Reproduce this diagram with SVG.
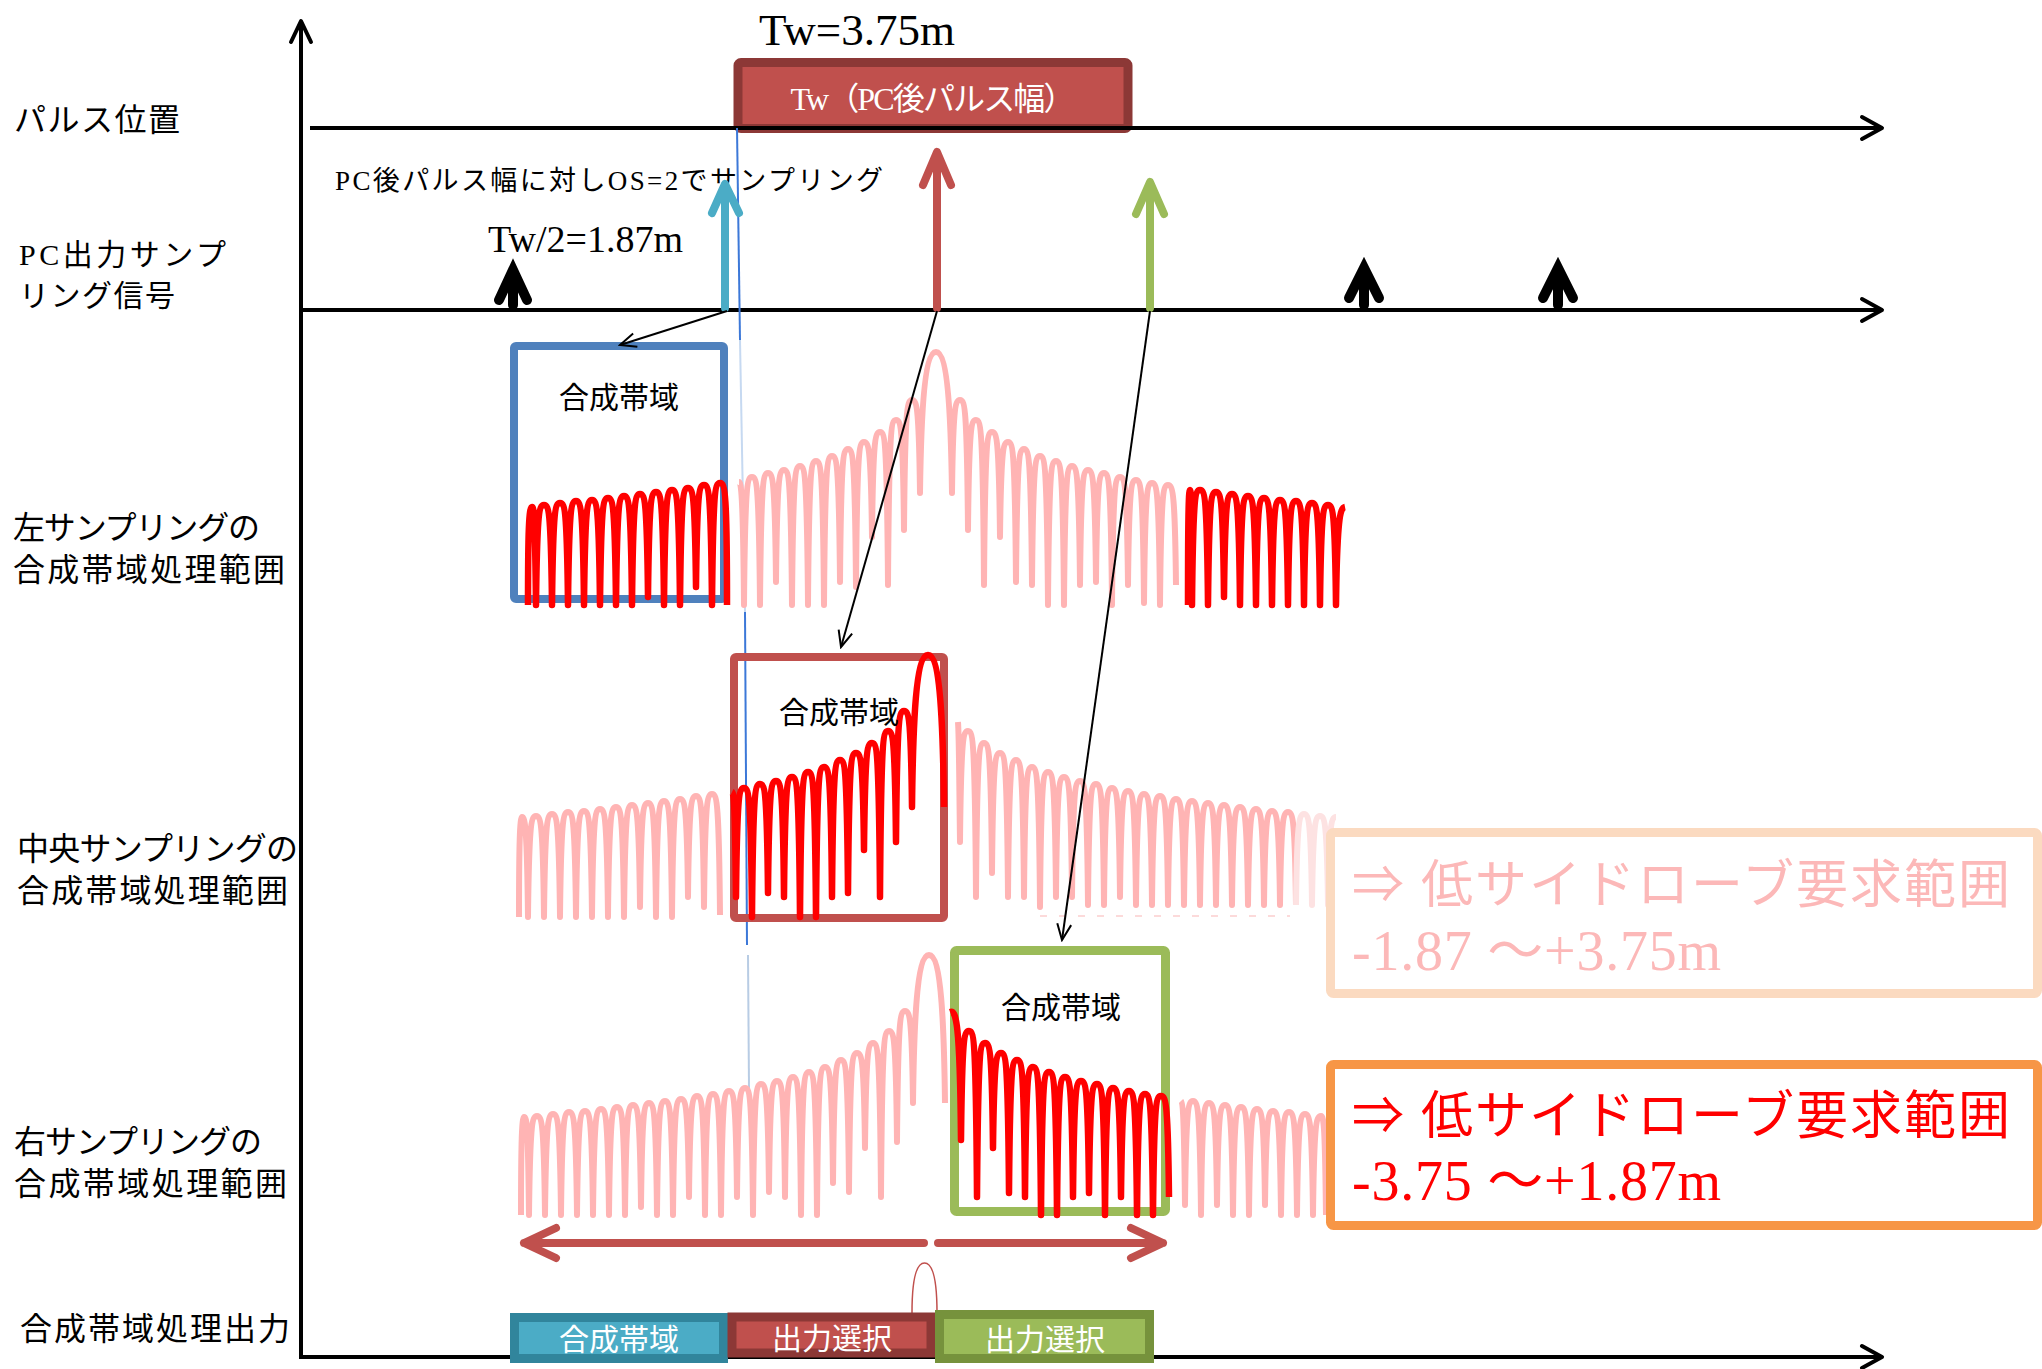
<svg xmlns="http://www.w3.org/2000/svg" width="2042" height="1369" viewBox="0 0 2042 1369">
<defs>
<style>
.jp{font-family:'Noto Sans CJK JP',sans-serif;fill:#000}
.mix{font-family:'Liberation Serif','Noto Sans CJK JP',serif;fill:#000}
.axis{stroke:#000;stroke-width:4;fill:none}
.ahd{stroke:#000;stroke-width:4;fill:none;stroke-linecap:round;stroke-linejoin:round}
.pale{fill:none;stroke:#FFB4B4;stroke-width:6;stroke-linejoin:round}
.fade{fill:none;stroke:#FDE2E2;stroke-width:6;stroke-linejoin:round}
.red{fill:none;stroke:#FF0000;stroke-width:6.5;stroke-linejoin:round}
.conn{stroke:#000;stroke-width:2;fill:none;marker-end:url(#ah)}
.samp{fill:none;stroke-width:8;stroke-linecap:round;stroke-linejoin:round}
.blk{fill:none;stroke:#000;stroke-width:10;stroke-linecap:round;stroke-linejoin:miter}
.wt{font-family:'Noto Sans CJK JP',sans-serif;fill:#fff;font-size:30px;text-anchor:middle}
.bl{font-family:'Noto Sans CJK JP',sans-serif;fill:#000;font-size:30px;text-anchor:middle}
</style>
<marker id="ah" markerUnits="userSpaceOnUse" markerWidth="20" markerHeight="18" viewBox="0 0 20 18" refX="18" refY="9" orient="auto">
<path d="M2,2 L18,9 L2,16" fill="none" stroke="#000" stroke-width="2"/>
</marker>
</defs>
<rect width="2042" height="1369" fill="#fff"/>

<g id="tw-box">
<rect x="738" y="62.5" width="390" height="66" rx="3" fill="#C0504D" stroke="#8C3836" stroke-width="9"/>
<text class="mix" x="933" y="110" font-size="32" text-anchor="middle" style="fill:#fff" textLength="285">Tw（PC後パルス幅）</text>
</g>

<g id="axes">
<line class="axis" x1="301" y1="22" x2="301" y2="1357"/>
<polyline class="ahd" points="291,42 301,21 311,42"/>
<line class="axis" x1="310" y1="128" x2="1880" y2="128"/>
<polyline class="ahd" points="1862,117 1882,128 1862,139"/>
<line class="axis" x1="301" y1="310" x2="1880" y2="310"/>
<polyline class="ahd" points="1862,299 1882,310 1862,321"/>
<line class="axis" x1="299" y1="1357" x2="1880" y2="1357"/>
<polyline class="ahd" points="1862,1346 1882,1357 1862,1368"/>
</g>

<g id="labels">
<text class="mix" x="759" y="45" font-size="45">Tw=3.75m</text>
<text class="jp" x="14" y="131" font-size="32" textLength="166">パルス位置</text>
<text class="mix" font-size="30"><tspan x="19" y="265" textLength="207">PC出力サンプ</tspan><tspan x="19" y="306" textLength="156">リング信号</tspan></text>
<text class="mix" x="335" y="190" font-size="27" textLength="548">PC後パルス幅に対しOS=2でサンプリング</text>
<text class="mix" x="488" y="252" font-size="38">Tw/2=1.87m</text>
<text class="jp" font-size="32"><tspan x="13" y="539" textLength="247">左サンプリングの</tspan><tspan x="13" y="581" textLength="272">合成帯域処理範囲</tspan></text>
<text class="jp" font-size="32"><tspan x="17" y="860" textLength="281">中央サンプリングの</tspan><tspan x="17" y="902" textLength="271">合成帯域処理範囲</tspan></text>
<text class="jp" font-size="32"><tspan x="14" y="1153" textLength="248">右サンプリングの</tspan><tspan x="14" y="1195" textLength="273">合成帯域処理範囲</tspan></text>
<text class="jp" x="20" y="1340" font-size="32" textLength="270">合成帯域処理出力</text>
</g>

<g id="ref-line">
<line x1="737" y1="128" x2="740" y2="340" stroke="#3C78D8" stroke-width="2"/>
<line x1="740" y1="340" x2="745" y2="612" stroke="#C6D9F1" stroke-width="2"/>
<line x1="745" y1="612" x2="747" y2="945" stroke="#3C78D8" stroke-width="2"/>
<line x1="748" y1="955" x2="749" y2="1088" stroke="#B8CCE4" stroke-width="2"/>
</g>

<g id="plot-left-sampling">
<path class="pale" d="M739,482 C741,482 743,492 744,605 C745,487 747,477 752,477 C757,477 759,487 760,605 C761,483 763,473 768,473 C773,473 775,483 776,582 C777,480 779,470 784,470 C789,470 791,480 792,605 C793,476 795,466 800,466 C805,466 807,476 808,605 C809,471 811,461 816,461 C821,461 823,471 824,605 C825,466 827,456 832,456 C837,456 839,466 840,582 C841,459 843,449 848,449 C853,449 855,459 856,587 C857,452 859,442 864,442 C869,442 871,452 872,537 C873,442 875,432 880,432 C885,432 887,442 888,585 C889,430 891,420 896,420 C901,420 903,430 904,530 C905,410 907,400 912,400 C917,400 919,410 920,493 C921,420 924,352 936,352 C948,352 951,420 952,493 C953,410 955,400 960,400 C965,400 967,410 968,530 C969,430 971,420 976,420 C981,420 983,430 984,585 C985,442 987,432 992,432 C997,432 999,442 1000,537 C1001,452 1003,442 1008,442 C1013,442 1015,452 1016,582 C1017,459 1019,449 1024,449 C1029,449 1031,459 1032,585 C1033,466 1035,456 1040,456 C1045,456 1047,466 1048,605 C1049,471 1051,461 1056,461 C1061,461 1063,471 1064,605 C1065,476 1067,466 1072,466 C1077,466 1079,476 1080,585 C1081,480 1083,470 1088,470 C1093,470 1095,480 1096,582 C1097,483 1099,473 1104,473 C1109,473 1111,483 1112,605 C1113,487 1115,477 1120,477 C1125,477 1127,487 1128,585 C1129,490 1131,480 1136,480 C1141,480 1143,490 1144,603 C1145,493 1147,483 1152,483 C1157,483 1159,493 1160,605 C1161,495 1163,485 1168,485 C1173,485 1175,495 1176,585"/>
</g>

<g id="plot-center-sampling">
<path class="pale" d="M519,917 C519,840 520,818 522,817 C525,817 527,827 528,917 C529,826 531,816 536,816 C541,816 543,826 544,917 C545,824 547,814 552,814 C557,814 559,824 560,917 C561,822 563,812 568,812 C573,812 575,822 576,917 C577,821 579,811 584,811 C589,811 591,821 592,917 C593,819 595,809 600,809 C605,809 607,819 608,917 C609,817 611,807 616,807 C621,807 623,817 624,917 C625,815 627,805 632,805 C637,805 639,815 640,907 C641,813 643,803 648,803 C653,803 655,813 656,917 C657,811 659,801 664,801 C669,801 671,811 672,917 C673,809 675,799 680,799 C685,799 687,809 688,897 C689,806 691,796 696,796 C701,796 703,806 704,907 C705,804 707,794 712,794 C717,794 719,804 720,915"/>
<path class="pale" d="M958,722 C959,735 959,760 960,842 C961,741 963,731 968,731 C973,731 975,741 976,897 C977,753 979,743 984,743 C989,743 991,753 992,873 C993,763 995,753 1000,753 C1005,753 1007,763 1008,897 C1009,770 1011,760 1016,760 C1021,760 1023,770 1024,897 C1025,777 1027,767 1032,767 C1037,767 1039,777 1040,907 C1041,782 1043,772 1048,772 C1053,772 1055,782 1056,897 C1057,787 1059,777 1064,777 C1069,777 1071,787 1072,897 C1073,791 1075,781 1080,781 C1085,781 1087,791 1088,905 C1089,794 1091,784 1096,784 C1101,784 1103,794 1104,905 C1105,798 1107,788 1112,788 C1117,788 1119,798 1120,897 C1121,801 1123,791 1128,791 C1133,791 1135,801 1136,905 C1137,804 1139,794 1144,794 C1149,794 1151,804 1152,905 C1153,806 1155,796 1160,796 C1165,796 1167,806 1168,905 C1169,809 1171,799 1176,799 C1181,799 1183,809 1184,905 C1185,811 1187,801 1192,801 C1197,801 1199,811 1200,905 C1201,813 1203,803 1208,803 C1213,803 1215,813 1216,905 C1217,815 1219,805 1224,805 C1229,805 1231,815 1232,905 C1233,817 1235,807 1240,807 C1245,807 1247,817 1248,905 C1249,819 1251,809 1256,809 C1261,809 1263,819 1264,905 C1265,821 1267,811 1272,811 C1277,811 1279,821 1280,905 C1281,822 1283,812 1288,812 C1293,812 1295,822 1296,905"/>
<path class="fade" d="M1296,905 C1297,824 1299,814 1304,814 C1309,814 1311,824 1312,905 C1313,826 1315,816 1320,816 C1325,816 1327,826 1328,905 C1329,827 1331,817 1336,817"/>
<line x1="1040" y1="916" x2="1290" y2="916" stroke="#FCDADA" stroke-width="2" stroke-dasharray="7 12"/>
</g>

<g id="plot-right-sampling">
<path class="pale" d="M521,1215 C521,1140 522,1118 524,1117 C527,1117 528,1127 529,1215 C530,1126 532,1116 537,1116 C542,1116 544,1126 545,1215 C546,1124 548,1114 553,1114 C558,1114 560,1124 561,1215 C562,1122 564,1112 569,1112 C574,1112 576,1122 577,1215 C578,1121 580,1111 585,1111 C590,1111 592,1121 593,1215 C594,1119 596,1109 601,1109 C606,1109 608,1119 609,1215 C610,1117 612,1107 617,1107 C622,1107 624,1117 625,1215 C626,1115 628,1105 633,1105 C638,1105 640,1115 641,1207 C642,1113 644,1103 649,1103 C654,1103 656,1113 657,1215 C658,1111 660,1101 665,1101 C670,1101 672,1111 673,1215 C674,1109 676,1099 681,1099 C686,1099 688,1109 689,1197 C690,1106 692,1096 697,1096 C702,1096 704,1106 705,1215 C706,1104 708,1094 713,1094 C718,1094 720,1104 721,1215 C722,1101 724,1091 729,1091 C734,1091 736,1101 737,1197 C738,1098 740,1088 745,1088 C750,1088 752,1098 753,1215 C754,1094 756,1084 761,1084 C766,1084 768,1094 769,1192 C770,1091 772,1081 777,1081 C782,1081 784,1091 785,1197 C786,1087 788,1077 793,1077 C798,1077 800,1087 801,1215 C802,1082 804,1072 809,1072 C814,1072 816,1082 817,1215 C818,1077 820,1067 825,1067 C830,1067 832,1077 833,1183 C834,1070 836,1060 841,1060 C846,1060 848,1070 849,1192 C850,1063 852,1053 857,1053 C862,1053 864,1063 865,1148 C866,1053 868,1043 873,1043 C878,1043 880,1053 881,1197 C882,1041 884,1031 889,1031 C894,1031 896,1041 897,1142 C898,1021 900,1011 905,1011 C910,1011 912,1021 913,1103 C914,1020 917,955 929,955 C941,955 944,1020 945,1103"/>
<path class="pale" d="M1181,1101 C1183,1103 1184,1115 1185,1205 C1186,1111 1188,1101 1193,1101 C1198,1101 1200,1111 1201,1215 C1202,1113 1204,1103 1209,1103 C1214,1103 1216,1113 1217,1205 C1218,1115 1220,1105 1225,1105 C1230,1105 1232,1115 1233,1215 C1234,1117 1236,1107 1241,1107 C1246,1107 1248,1117 1249,1215 C1250,1119 1252,1109 1257,1109 C1262,1109 1264,1119 1265,1205 C1266,1121 1268,1111 1273,1111 C1278,1111 1280,1121 1281,1215 C1282,1122 1284,1112 1289,1112 C1294,1112 1296,1122 1297,1215 C1298,1124 1300,1114 1305,1114 C1310,1114 1312,1124 1313,1215 C1314,1126 1316,1116 1321,1116 C1324,1116 1325,1130 1326,1215"/>
</g>

<g id="box-left">
<rect x="514" y="346" width="210" height="253" fill="none" stroke="#4F81BD" stroke-width="8" rx="2"/>
<text class="bl" x="619" y="408">合成帯域</text>
</g>
<g id="box-center">
<rect x="734" y="657" width="210" height="261" fill="none" stroke="#C0504D" stroke-width="8" rx="2"/>
</g>
<g id="box-right">
<rect x="954.5" y="950.5" width="211" height="261" fill="none" stroke="#9BBB59" stroke-width="9" rx="2"/>
<text class="bl" x="1061" y="1018">合成帯域</text>
</g>

<g id="red-lobes">
<path class="red" d="M528,605 C528,530 529,507 532,507 C534,507 535,516 536,605 C537,515 539,505 544,505 C549,505 551,515 552,605 C553,513 555,503 560,503 C565,503 567,513 568,605 C569,511 571,501 576,501 C581,501 583,511 584,605 C585,510 587,500 592,500 C597,500 599,510 600,605 C601,508 603,498 608,498 C613,498 615,508 616,605 C617,506 619,496 624,496 C629,496 631,506 632,605 C633,504 635,494 640,494 C645,494 647,504 648,597 C649,502 651,492 656,492 C661,492 663,502 664,605 C665,500 667,490 672,490 C677,490 679,500 680,605 C681,498 683,488 688,488 C693,488 695,498 696,587 C697,495 699,485 704,485 C709,485 711,495 712,605 C713,493 715,483 720,483 C725,483 727,493 727,605"/>
<path class="red" d="M1188,605 C1188,500 1189,490 1190,490 C1191,490 1192,500 1192,605 C1193,500 1195,490 1200,490 C1205,490 1207,500 1208,605 C1209,502 1211,492 1216,492 C1221,492 1223,502 1224,597 C1225,504 1227,494 1232,494 C1237,494 1239,504 1240,605 C1241,506 1243,496 1248,496 C1253,496 1255,506 1256,605 C1257,508 1259,498 1264,498 C1269,498 1271,508 1272,605 C1273,510 1275,500 1280,500 C1285,500 1287,510 1288,605 C1289,511 1291,501 1296,501 C1301,501 1303,511 1304,605 C1305,513 1307,503 1312,503 C1317,503 1319,513 1320,605 C1321,515 1323,505 1328,505 C1333,505 1335,515 1336,605 C1337,520 1340,508 1345,507"/>
<path class="red" d="M732,792 C734,793 735,805 736,897 C737,798 739,788 744,788 C749,788 751,798 752,917 C753,794 755,784 760,784 C765,784 767,794 768,893 C769,791 771,781 776,781 C781,781 783,791 784,897 C785,787 787,777 792,777 C797,777 799,787 800,917 C801,782 803,772 808,772 C813,772 815,782 816,917 C817,777 819,767 824,767 C829,767 831,777 832,897 C833,770 835,760 840,760 C845,760 847,770 848,893 C849,763 851,753 856,753 C861,753 863,763 864,850 C865,753 867,743 872,743 C877,743 879,753 880,897 C881,741 883,731 888,731 C893,731 895,741 896,842 C897,721 899,711 904,711 C909,711 911,721 912,807 C913,720 916,655 928,655 C940,655 943,720 944,807"/>
<path class="red" d="M950,1012 C956,1010 960,1020 961,1140 C962,1041 964,1031 969,1031 C974,1031 976,1041 977,1197 C978,1053 980,1043 985,1043 C990,1043 992,1053 993,1148 C994,1063 996,1053 1001,1053 C1006,1053 1008,1063 1009,1193 C1010,1070 1012,1060 1017,1060 C1022,1060 1024,1070 1025,1197 C1026,1077 1028,1067 1033,1067 C1038,1067 1040,1077 1041,1215 C1042,1082 1044,1072 1049,1072 C1054,1072 1056,1082 1057,1215 C1058,1087 1060,1077 1065,1077 C1070,1077 1072,1087 1073,1197 C1074,1091 1076,1081 1081,1081 C1086,1081 1088,1091 1089,1193 C1090,1094 1092,1084 1097,1084 C1102,1084 1104,1094 1105,1215 C1106,1098 1108,1088 1113,1088 C1118,1088 1120,1098 1121,1197 C1122,1101 1124,1091 1129,1091 C1134,1091 1136,1101 1137,1215 C1138,1104 1140,1094 1145,1094 C1150,1094 1152,1104 1153,1215 C1154,1106 1156,1096 1161,1096 C1166,1096 1168,1106 1169,1197"/>
<text class="bl" x="839" y="723">合成帯域</text>
</g>

<g id="req-box-light">
<rect x="1330.5" y="832.5" width="707" height="161" rx="3" fill="#fff" stroke="#FBDAC0" stroke-width="9"/>
<text class="mix" x="1352" y="903" font-size="52" style="fill:#FCB8B8" textLength="658">⇒ 低サイドローブ要求範囲</text>
<text class="mix" x="1352" y="970" font-size="56" style="fill:#FCB8B8" textLength="369">-1.87 ～+3.75m</text>
</g>
<g id="req-box">
<rect x="1330.5" y="1064.5" width="707" height="161" rx="3" fill="#fff" stroke="#F79646" stroke-width="9"/>
<text class="mix" x="1352" y="1134" font-size="52" style="fill:#FF0000" textLength="658">⇒ 低サイドローブ要求範囲</text>
<text class="mix" x="1352" y="1200" font-size="56" style="fill:#FF0000" textLength="369">-3.75 ～+1.87m</text>
</g>

<g id="sample-cyan">
<path class="samp" stroke="#4BACC6" d="M725,308 L725,186 M712,213 L725,184 L739,213"/>
</g>
<g id="sample-red">
<path class="samp" stroke="#C0504D" d="M937,308 L937,154 M923,185 L937,152 L951,185"/>
</g>
<g id="sample-green">
<path class="samp" stroke="#9BBB59" d="M1150,308 L1150,184 M1136,214 L1150,182 L1164,214"/>
</g>
<g id="sample-black-1"><path class="blk" d="M499,300 L513,270 L527,300 M513,305 L513,276"/></g>
<g id="sample-black-2"><path class="blk" d="M1349,298 L1364,268 L1379,298 M1364,305 L1364,274"/></g>
<g id="sample-black-3"><path class="blk" d="M1543,298 L1558,268 L1573,298 M1558,305 L1558,274"/></g>

<g id="connectors">
<line class="conn" x1="727" y1="311" x2="620" y2="345"/>
<line class="conn" x1="937" y1="311" x2="841" y2="647"/>
<line class="conn" x1="1150" y1="311" x2="1062" y2="940"/>
</g>

<g id="range-arrow">
<path d="M524,1243 L924,1243 M938,1243 L1163,1243 M556,1228 L524,1243 L556,1258 M1131,1228 L1163,1243 L1131,1258" fill="none" stroke="#C0504D" stroke-width="8" stroke-linecap="round" stroke-linejoin="round"/>
<path d="M912,1313 C912,1272 918,1263 924.5,1263 C931,1263 937,1272 937,1313" fill="none" stroke="#C0504D" stroke-width="1.5"/>
</g>

<g id="out-synth">
<rect x="514.5" y="1317.5" width="209" height="41" fill="#4BACC6" stroke="#31859C" stroke-width="9"/>
<text class="wt" x="619" y="1350">合成帯域</text>
</g>
<g id="out-sel-center">
<rect x="732" y="1317" width="199" height="36" fill="#C0504D" stroke="#8C3836" stroke-width="9"/>
<text class="wt" x="832" y="1349">出力選択</text>
</g>
<g id="out-sel-right">
<rect x="939.5" y="1314.5" width="210" height="44" fill="#9BBB59" stroke="#76923C" stroke-width="9"/>
<text class="wt" x="1045" y="1350">出力選択</text>
</g>
</svg>
